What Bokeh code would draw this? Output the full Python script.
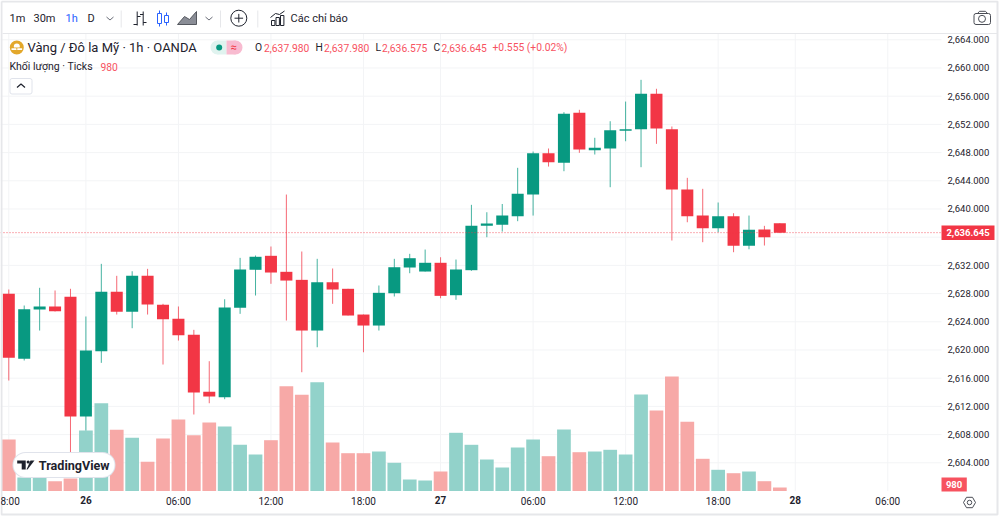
from bokeh.plotting import figure
from bokeh.models import Range1d, LinearAxis, FixedTicker, NumeralTickFormatter
from bokeh.core.properties import value
from bokeh.embed import file_html
from bokeh.resources import INLINE

highs = [2628.58,2626.31,2628.82,2628.44,2628.68,2624.75,2632.22,2630.52,2631.17,2631.51,
         2626.55,2626.17,2622.86,2618.41,2627.20,2633.07,2633.40,2634.68,2642.05,2633.97,
         2632.93,2631.56,2628.68,2625.03,2629.15,2632.93,2633.64,2634.25,2633.16,2632.83,
         2640.59,2639.54,2640.71,2645.84,2648.15,2648.58,2653.73,2654.07,2650.10,2652.45,
         2655.24,2658.32,2657.05,2651.70,2644.42,2642.86,2640.92,2639.40,2639.07,2637.61,2637.98]
opens = [2627.97,2618.75,2625.74,2626.17,2627.54,2610.56,2619.83,2628.25,2625.42,2630.52,
         2626.41,2624.42,2622.15,2614.07,2613.30,2625.98,2631.37,2633.36,2631.09,2629.95,
         2622.76,2629.61,2628.68,2625.03,2623.47,2628.05,2631.70,2631.13,2632.37,2627.77,
         2631.32,2637.61,2637.76,2638.98,2642.05,2647.91,2646.55,2653.64,2648.34,2648.58,
         2651.09,2651.32,2656.34,2651.32,2642.76,2639.07,2637.27,2638.98,2634.78,2637.09,2637.98]
closes = [2618.89,2625.78,2626.17,2625.50,2610.56,2619.93,2628.25,2625.42,2630.52,2626.45,
          2624.37,2622.10,2613.97,2613.40,2626.03,2631.42,2633.22,2630.99,2629.85,2622.76,
          2629.61,2628.58,2624.89,2623.47,2628.11,2631.74,2633.02,2632.37,2627.68,2631.42,
          2637.61,2637.94,2639.07,2642.15,2647.91,2646.63,2653.50,2648.44,2648.68,2651.17,
          2651.32,2656.34,2651.41,2642.76,2638.98,2637.27,2638.98,2634.78,2637.05,2636.00,2636.645]
lows = [2615.67,2618.51,2622.76,2625.46,2605.03,2608.58,2618.18,2625.03,2623.09,2625.03,
        2617.94,2621.34,2610.85,2612.45,2613.02,2625.13,2627.73,2629.39,2624.18,2616.85,
        2620.39,2626.55,2624.89,2619.68,2622.76,2627.59,2630.89,2631.13,2627.34,2627.12,
        2631.23,2636.00,2636.80,2638.27,2639.07,2646.02,2645.36,2647.97,2647.73,2643.09,
        2649.61,2645.93,2649.24,2635.53,2638.12,2635.29,2636.71,2633.87,2634.29,2634.82,2636.575]
volumes = [14420,3780,3780,2744,3500,16940,24584,17136,14896,8176,
           14700,20020,15624,19180,18060,12936,10220,14224,29344,26936,
           30464,13580,10584,10584,11060,7896,3220,2940,5460,16296,
           12936,8820,6580,12180,14420,9744,17220,10864,11060,11536,
           10220,27020,22540,32060,19376,9016,5936,4984,5460,2744,980]
bar_index = list(range(len(closes)))

time_ticks = [0, 11, 17, 23, 34, 40, 46, 57]
time_labels = ["8:00", "06:00", "12:00", "18:00", "06:00", "12:00", "18:00", "06:00"]
day_ticks = [5, 28, 51]
day_labels = ["26", "27", "28"]
price_ticks = [2604, 2608, 2612, 2616, 2620, 2624, 2628, 2632, 2636, 2640, 2644, 2648, 2652, 2656, 2660, 2664]
price_labels_hidden = [2636]  # sits under the last-price tag
last_close = closes[-1]

UP, DOWN = "#089981", "#F23645"
UP_VOL, DOWN_VOL = "#92D2CA", "#F7A9A7"
INK, MUTED, GRID, EDGE = "#1E222D", "#6A6D78", "#F3F4F6", "#E6E7EA"
FONT = "Roboto"

X0, X1 = -0.538, 64.31
Y0, Y1 = 2596.241, 2669.574
AXIS_X = 60.486
PRICE_FLOOR, PRICE_TOP = 2600.0, 2664.89

p = figure(width=1000, height=517, output_backend="svg", toolbar_location=None,
           x_range=Range1d(X0, X1), y_range=Range1d(Y0, Y1),
           x_axis_type=None, y_axis_type=None, min_border=0,
           outline_line_color=None, background_fill_color="white", border_fill_color="white")
p.grid.visible = False
p.extra_x_ranges = {"px": Range1d(0, 1000)}
p.extra_y_ranges = {"py": Range1d(517, 0), "vol": Range1d(-7420, 137340)}
PX = dict(x_range_name="px", y_range_name="py")

# grid
all_t = sorted(time_ticks + day_ticks)
p.segment(x0=all_t, x1=all_t, y0=[PRICE_FLOOR] * len(all_t), y1=[PRICE_TOP] * len(all_t),
          line_color=GRID, line_width=1)
p.segment(x0=[X0] * len(price_ticks), x1=[AXIS_X] * len(price_ticks), y0=price_ticks, y1=price_ticks,
          line_color=GRID, line_width=1)

# volume
up = [c >= o for o, c in zip(opens, closes)]
p.vbar(x=bar_index, top=volumes, bottom=0, width=0.89, y_range_name="vol",
       fill_color=[UP_VOL if u else DOWN_VOL for u in up], line_color=None)

# candles
colors = [UP if u else DOWN for u in up]
p.segment(x0=bar_index, x1=bar_index, y0=lows, y1=highs, line_color=colors, line_width=1, line_alpha=0.75)
p.vbar(x=bar_index, top=[max(a, b) for a, b in zip(opens, closes)],
       bottom=[min(a, b) for a, b in zip(opens, closes)], width=0.78,
       fill_color=colors, line_color=None)

# last price line
p.segment(x0=[X0], x1=[AXIS_X], y0=[last_close], y1=[last_close],
          line_color=DOWN, line_width=1, line_dash="1 2", line_alpha=0.8)

# axes
NO_TICKS = dict(major_tick_line_color=None, minor_tick_line_color=None, axis_line_color=None,
                major_tick_in=0, major_tick_out=0, minor_tick_in=0, minor_tick_out=0)
ax_r = LinearAxis(fixed_location=AXIS_X,
                  ticker=FixedTicker(ticks=[t for t in price_ticks if t not in price_labels_hidden]),
                  formatter=NumeralTickFormatter(format="0,0.000"),
                  major_label_standoff=6, major_label_text_font=FONT,
                  major_label_text_font_size="9.5px", major_label_text_color=INK, **NO_TICKS)
p.add_layout(ax_r, "right")
ax_t = LinearAxis(fixed_location=PRICE_FLOOR, ticker=FixedTicker(ticks=time_ticks),
                  major_label_overrides={t: l for t, l in zip(time_ticks, time_labels)},
                  major_label_standoff=5, major_label_text_font=FONT,
                  major_label_text_font_size="10px", major_label_text_color=INK, **NO_TICKS)
p.add_layout(ax_t, "below")
ax_d = LinearAxis(fixed_location=PRICE_FLOOR, ticker=FixedTicker(ticks=day_ticks),
                  major_label_overrides={t: l for t, l in zip(day_ticks, day_labels)},
                  major_label_standoff=5, major_label_text_font=FONT, major_label_text_font_style="bold",
                  major_label_text_font_size="10px", major_label_text_color=INK, **NO_TICKS)
p.add_layout(ax_d, "below")


def txt(x, y, s, size, color=INK, align="left", style="normal"):
    p.text(x=[x], y=[y], text=[s], text_font=value(FONT), text_font_size=size, text_color=color,
           text_align=align, text_baseline="middle", text_font_style=style, **PX)


def ln(xs, ys, color=INK, w=1.0, **kw):
    p.line(x=xs, y=ys, line_color=color, line_width=w, **PX, **kw)


def box(l, r, t, b, fill, line=None, **kw):
    p.quad(left=[l], right=[r], top=[t], bottom=[b], fill_color=fill, line_color=line, **PX, **kw)


# frame of the widget
ln([1, 997, 997, 1, 1], [1, 1, 514, 514, 1], color=EDGE, w=2)
ln([2, 997], [33, 33], color=EDGE, w=1)

# toolbar
txt(9, 17.5, "1m", "11px")
txt(33, 17.5, "30m", "11px")
txt(65, 17.5, "1h", "11px", color="#2962FF")
txt(87, 17.5, "D", "11px")
ln([106, 109.5, 113], [16.5, 19.5, 16.5], color=MUTED)
for sx in (120.7, 220, 257.3):
    ln([sx, sx], [10, 27], color=EDGE)
# bar-style icon
ln([136.7, 136.7], [11, 25])
ln([133, 136.7], [24, 24])
ln([136.7, 140], [16, 16])
ln([142.7, 142.7], [11, 25])
ln([139.5, 142.7], [14, 14])
ln([142.7, 146], [22, 22])
# candle icon
BLUE = "#2962FF"
ln([159, 159], [10, 26], color=BLUE)
box(157, 161, 13, 23, "white", BLUE)
ln([166, 166], [12, 25], color=BLUE)
box(164, 168, 15, 22, "white", BLUE)
# area icon
p.patch(x=[177, 184, 189, 196, 196, 177], y=[24, 16, 19, 11, 24, 24], fill_color="#8A8D96",
        line_color="#55585F", line_width=1, **PX)
ln([205, 208.5, 212], [16.5, 19.5, 16.5], color=MUTED)
# plus
p.scatter(x=[238.3], y=[17.7], size=16, marker="circle", fill_color=None, line_color=INK, line_width=1, **PX)
ln([234, 242.6], [17.7, 17.7])
ln([238.3, 238.3], [13.4, 22])
# indicators icon
for l, t in ((271, 20), (275.5, 17), (280, 15)):
    box(l, l + 3.4, t, 25, "white", INK)
ln([270, 275, 279, 284], [17, 13, 14, 10.5])
txt(290, 17.5, "Các chỉ báo", "11px")
# camera
box(973.5, 990, 13, 24, "white", "#4A4D55", border_radius=2)
ln([977, 979, 985, 987], [13, 10.8, 10.8, 13], color="#4A4D55")
p.scatter(x=[981.5], y=[18.3], size=7, marker="circle", fill_color=None, line_color="#4A4D55", **PX)

# legend
p.scatter(x=[16.3], y=[47], size=14, marker="circle", fill_color="#E3A82B", line_color=None, **PX)
p.scatter(x=[16.3], y=[46], size=6, marker="circle", fill_color="white", line_color=None, **PX)
box(12, 21, 47, 49, "#E3A82B")
box(11, 15.8, 47.8, 49.6, "white")
box(16.8, 21.6, 47.8, 49.6, "white")
txt(27, 46.5, "Vàng / Đô la Mỹ · 1h · OANDA", "13px")
p.scatter(x=[217, 235], y=[47, 47], size=14, marker="circle",
          fill_color=["#E0F3EF", "#F8BBD0"], line_color=None, **PX)
box(217, 226, 40, 54, "#E0F3EF")
box(226, 235, 40, 54, "#F8BBD0")
p.scatter(x=[218.7], y=[47], size=6, marker="circle", fill_color=UP, line_color=None, **PX)
txt(233, 46.5, "≈", "11px", color=DOWN, align="center")
PV = "#F7525F"
for lx, vx, letter, val in ((254.5, 263.5, "O", "2,637.980"), (315, 323.5, "H", "2,637.980"),
                            (375, 381.5, "L", "2,636.575"), (433, 441, "C", "2,636.645")):
    txt(lx, 47, letter, "10.3px")
    txt(vx, 47, val, "10.3px", color=PV)
txt(492, 47, "+0.555 (+0.02%)", "10.3px", color=PV)
txt(9, 66, "Khối lượng · Ticks", "10.5px")
txt(100, 66, "980", "10.3px", color=PV)
box(9.5, 31.5, 78, 93.5, "white", "#E0E3EB", border_radius=2)
ln([16.5, 20.5, 24.5], [87, 83.5, 87], color=INK, w=1.2)

# TradingView badge
ln([25, 102], [464.5, 464.5], color="#E0E3EB", w=26, line_cap="round")
ln([25, 102], [464.5, 464.5], color="white", w=24, line_cap="round")
p.patches(xs=[[16.7, 25.2, 25.2, 21.2, 21.2, 16.7], [27, 34, 30, 26]],
          ys=[[460, 460, 469, 469, 463, 463], [469, 460, 460, 469]],
          fill_color=INK, line_color=None, **PX)
p.scatter(x=[27.7], y=[461.5], size=3.2, marker="circle", fill_color=INK, line_color=None, **PX)
txt(38.3, 465, "TradingView", "12.6px", style="bold")

# price and volume tags
box(941, 994, 225, 239.5, DOWN)
txt(967.5, 232.3, "2,636.645", "9.5px", color="white", align="center", style="bold")
box(941, 966.3, 477, 491, "#F7525F")
txt(953.6, 484, "980", "9.5px", color="white", align="center", style="bold")

# settings icon
p.scatter(x=[969], y=[502], size=12, marker="hex", fill_color=None, line_color="#4A4D55", **PX)
p.scatter(x=[969], y=[502], size=4.5, marker="circle", fill_color=None, line_color="#4A4D55", **PX)

open("out.html", "w").write(file_html(p, INLINE))
